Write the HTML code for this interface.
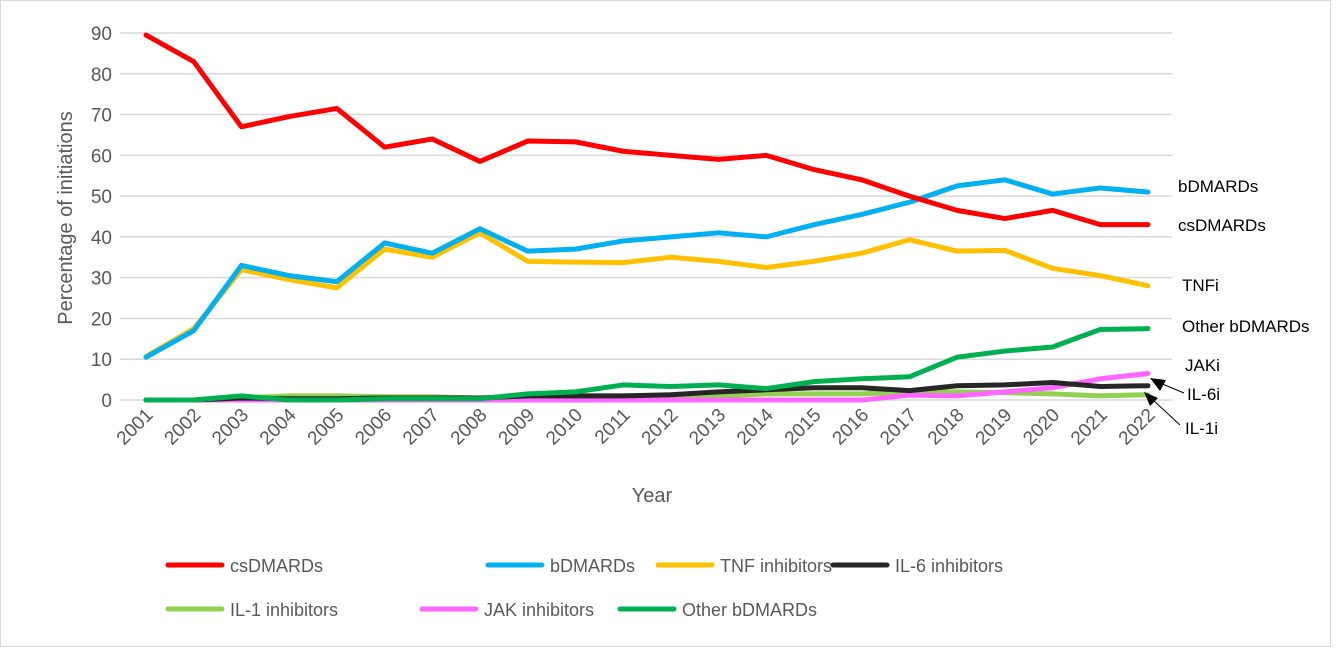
<!DOCTYPE html>
<html><head><meta charset="utf-8"><style>
body{margin:0;background:#fff;font-family:"Liberation Sans",sans-serif}
svg text{font-family:"Liberation Sans",sans-serif;fill:#595959}
</style></head><body>
<svg id="c" width="1342" height="648">
<rect x="0.5" y="0.5" width="1330" height="646" fill="#fff" stroke="#d9d9d9"/>
<g id="grid"></g><g id="xt"></g><g id="series"></g>
<text x="0" y="0" font-size="20" transform="translate(72,218) rotate(-90)" text-anchor="middle">Percentage of initiations</text>
<text x="652" y="502" font-size="20" text-anchor="middle">Year</text>
<g id="labels" font-size="17"></g>
<g id="legend" font-size="18"></g>
</svg>
<script>
const years=[2001,2002,2003,2004,2005,2006,2007,2008,2009,2010,2011,2012,2013,2014,2015,2016,2017,2018,2019,2020,2021,2022];
const yTicks=[0,10,20,30,40,50,60,70,80,90];
const csDMARDs=[89.5,83,67,69.5,71.5,62,64,58.5,63.5,63.3,61,60,59,60,56.5,54,50,46.5,44.5,46.5,43,43];
const bDMARDs=[10.5,17,33,30.5,29,38.5,36,42,36.5,37,39,40,41,40,43,45.5,48.5,52.5,54,50.5,52,51];
const tnf=[10.7,17.5,32,29.5,27.5,37,35,41,34,33.8,33.7,35,34,32.5,34,36,39.3,36.5,36.7,32.3,30.5,28];
const il6=[0,0,0.5,0.3,0.3,0.5,0.5,0.5,1,1,1,1.3,2,2.5,3,3,2.3,3.5,3.7,4.3,3.3,3.5];
const il1=[0,0,0.5,1,1,0.8,0.8,0.5,0.5,0.8,1,1,1,1.5,1.5,1.5,2,2,1.8,1.5,1,1.3];
const jak=[0,0,0,0,0,0,0,0,0,0,0,0,0,0,0,0,1.2,1,2,3,5.2,6.5];
const other=[0,0,1,0,0,0.3,0.3,0.3,1.5,2,3.7,3.3,3.7,2.8,4.5,5.2,5.7,10.5,12,13,17.3,17.5];
const NS='http://www.w3.org/2000/svg';
const X=i=>146+i*(1148-146)/(years.length-1);
const Y=v=>400-v*(400-33)/90;
function mk(t,a,p){const e=document.createElementNS(NS,t);for(const k in a)e.setAttribute(k,a[k]);p.appendChild(e);return e;}
const grid=document.getElementById('grid');
yTicks.forEach(v=>{
 const l=mk('line',{x1:120,x2:1172,y1:Y(v),y2:Y(v),stroke:'#d9d9d9','stroke-width':1.5},grid);
 
 
 const t=mk('text',{x:112,y:Y(v)+7,'text-anchor':'end','font-size':19},grid);t.textContent=v;
 
 
});
const xt=document.getElementById('xt');
years.forEach((yr,i)=>{
 const t=mk('text',{x:0,y:0,'text-anchor':'end','font-size':19,transform:`translate(${X(i)+8},${416}) rotate(-45)`},xt);t.textContent=yr;
 
 
});
const series=[
 ['il1-inhibitors',il1,'#92d050'],['jak-inhibitors',jak,'#ff66ff'],['il6-inhibitors',il6,'#262626'],
 ['other-bdmards',other,'#00b050'],['tnf-inhibitors',tnf,'#ffc000'],['bdmards',bDMARDs,'#00b0f0'],['csdmards',csDMARDs,'#ff0000']];
const sg=document.getElementById('series');
series.forEach(([n,d,c])=>{
 const p=mk('polyline',{points:d.map((v,i)=>X(i)+','+Y(v)).join(' '),fill:'none',stroke:c,'stroke-width':5,'stroke-linejoin':'round','stroke-linecap':'round'},sg);
 
 
});
const lab=document.getElementById('labels');
[['bDMARDs',1178,192],['csDMARDs',1178,231],['TNFi',1182,291],['Other bDMARDs',1182,332],['JAKi',1185,371],['IL-6i',1187,400],['IL-1i',1185,434]].forEach(([t,x,y])=>{
 const e=mk('text',{x:x,y:y,fill:'#000'},lab);e.textContent=t;e.style.fill='#000';
 
 
});
mk('line',{x1:1184,y1:393,x2:1160,y2:383,stroke:'#000'},lab);
mk('polygon',{points:'1150,378 1166,380 1160,391',fill:'#000'},lab);
mk('line',{x1:1180,y1:425,x2:1152,y2:399,stroke:'#000'},lab);
mk('polygon',{points:'1144,392 1158,398 1150,406',fill:'#000'},lab);
const lg=document.getElementById('legend');
[['csDMARDs','#ff0000',168,565],['bDMARDs','#00b0f0',488,565],['TNF inhibitors','#ffc000',658,565],['IL-6 inhibitors','#262626',833,565],
 ['IL-1 inhibitors','#92d050',168,609],['JAK inhibitors','#ff66ff',422,609],['Other bDMARDs','#00b050',620,609]].forEach(([t,c,x,y])=>{
 const g=mk('g',{},lg);
 
 
 mk('line',{x1:x,x2:x+54,y1:y,y2:y,stroke:c,'stroke-width':5,'stroke-linecap':'round'},g);
 const e=mk('text',{x:x+62,y:y+7},g);e.textContent=t;
});
</script>
</body></html>
